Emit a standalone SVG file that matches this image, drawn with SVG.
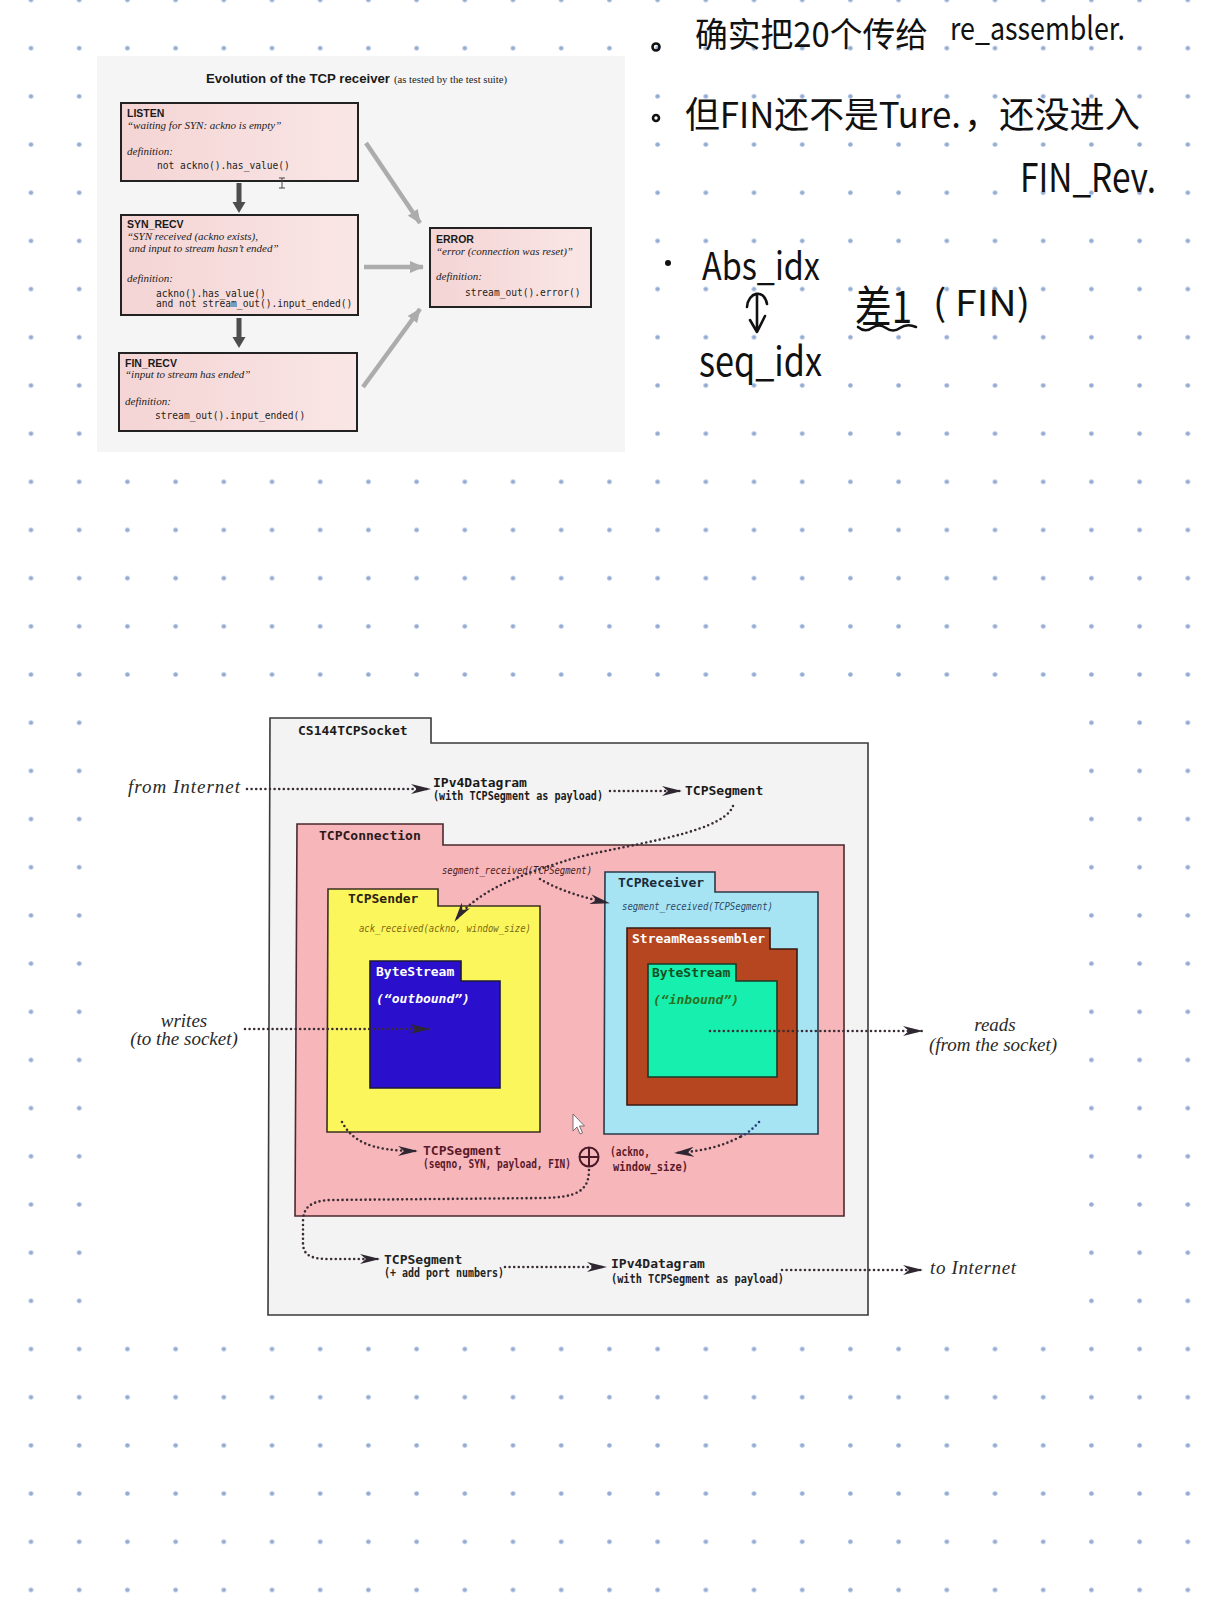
<svg xmlns="http://www.w3.org/2000/svg" width="1224" height="1607" viewBox="0 0 1224 1607">
<defs>
  <pattern id="dots" x="6.9" y="-24.09" width="48.2" height="48.18" patternUnits="userSpaceOnUse">
    <circle cx="24.1" cy="24.09" r="2.3" fill="#94acd4"/>
  </pattern>
  <linearGradient id="pinkbox" x1="0" y1="0" x2="1" y2="0">
    <stop offset="0" stop-color="#f4d4d4"/>
    <stop offset="1" stop-color="#fae6e6"/>
  </linearGradient>
  <marker id="stealth" viewBox="0 0 20 10" refX="19" refY="5" markerWidth="20" markerHeight="10" markerUnits="userSpaceOnUse" orient="auto">
    <path d="M0,0 L20,5 L0,10 L6,5 Z" fill="#2e2630"/>
  </marker>
  <marker id="garrow" viewBox="0 0 14 12" refX="13" refY="6" markerWidth="14" markerHeight="12" markerUnits="userSpaceOnUse" orient="auto">
    <path d="M0,0 L14,6 L0,12 Z" fill="#acacac"/>
  </marker>
  <style>
    .sans{font-family:"Liberation Sans",Arial,sans-serif}
    .serif{font-family:"Liberation Serif","Times New Roman",serif}
    .mono{font-family:"DejaVu Sans Mono","Liberation Mono",monospace}
    .cjk{font-family:"Noto Sans CJK SC","Noto Sans",sans-serif;fill:#111}
    .state{fill:url(#pinkbox);stroke:#222;stroke-width:2}
    .sname{font-family:"Liberation Sans",Arial,sans-serif;font-weight:bold;font-size:10.5px;fill:#1a1a1a}
    .squote{font-family:"Liberation Serif","Times New Roman",serif;font-style:italic;font-size:11px;fill:#222}
    .scode{font-family:"DejaVu Sans Mono","Liberation Mono",monospace;font-size:9.6px;fill:#222}
    .dot{fill:none;stroke:#3a2c34;stroke-width:2.6;stroke-linecap:round;stroke-dasharray:0 4.6}
    .garr{fill:none;stroke:#acacac;stroke-width:4.5}
    .box{stroke-width:1.6}
    .lbl{font-family:"DejaVu Sans Mono","Liberation Mono",monospace;font-weight:bold;font-size:13px}
    .sub{font-family:"DejaVu Sans Mono","Liberation Mono",monospace;font-weight:bold;font-size:11.5px}
    .meth{font-family:"DejaVu Sans Mono","Liberation Mono",monospace;font-style:italic;font-size:10.5px}
    .hand{fill:none;stroke:#111;stroke-width:2.6;stroke-linecap:round;stroke-linejoin:round}
    .ext{font-family:"Liberation Serif","Times New Roman",serif;font-style:italic;font-size:19px;fill:#2a2a2a}
  </style>
</defs>

<rect width="1224" height="1607" fill="#ffffff"/>
<rect width="1224" height="1607" fill="url(#dots)"/>

<!-- ===== Top screenshot: Evolution of the TCP receiver ===== -->
<g id="top-figure">
  <rect x="97" y="56" width="528" height="396" fill="#f6f5f5"/>
  <text x="206" y="83" class="sans" font-weight="bold" font-size="12.5px" fill="#1a1a1a" textLength="184" lengthAdjust="spacingAndGlyphs">Evolution of the TCP receiver</text>
  <text x="394" y="83" class="serif" font-size="10.5px" fill="#1a1a1a" textLength="113" lengthAdjust="spacingAndGlyphs">(as tested by the test suite)</text>
</g>

<g id="state-listen">
  <rect class="state" x="121" y="103" width="237" height="78"/>
  <text x="127" y="117" class="sname">LISTEN</text>
  <text x="127" y="129" class="squote">“waiting for SYN: ackno is empty”</text>
  <text x="127" y="155" class="squote">definition:</text>
  <text x="157" y="169" class="scode">not ackno().has_value()</text>
  <path d="M279,178 H285 M282,178 V188 M279,188 H285" stroke="#444" stroke-width="1" fill="none"/>
</g>

<g id="state-syn-recv">
  <rect class="state" x="121" y="215" width="237" height="100"/>
  <text x="127" y="228" class="sname">SYN_RECV</text>
  <text x="127" y="240" class="squote">“SYN received (ackno exists),</text>
  <text x="129" y="252" class="squote">and input to stream hasn’t ended”</text>
  <text x="127" y="282" class="squote">definition:</text>
  <text x="156" y="297" class="scode">ackno().has_value()</text>
  <text x="156" y="307" class="scode">and not stream_out().input_ended()</text>
</g>

<g id="state-fin-recv">
  <rect class="state" x="119" y="353" width="238" height="78"/>
  <text x="125" y="367" class="sname">FIN_RECV</text>
  <text x="125" y="378" class="squote">“input to stream has ended”</text>
  <text x="125" y="405" class="squote">definition:</text>
  <text x="155" y="419" class="scode">stream_out().input_ended()</text>
</g>

<g id="state-error">
  <rect class="state" x="430" y="228" width="161" height="79"/>
  <text x="436" y="243" class="sname">ERROR</text>
  <text x="436" y="255" class="squote">“error (connection was reset)”</text>
  <text x="436" y="280" class="squote">definition:</text>
  <text x="465" y="296" class="scode">stream_out().error()</text>
</g>

<g id="state-connectors">
  <rect x="236.5" y="183" width="5" height="20" fill="#4d4d4d"/>
  <polygon points="232.5,202 245.5,202 239,213" fill="#4d4d4d"/>
  <rect x="236.5" y="318" width="5" height="20" fill="#4d4d4d"/>
  <polygon points="232.5,337 245.5,337 239,348" fill="#4d4d4d"/>
  <path class="garr" d="M366,143 L420,223" marker-end="url(#garrow)"/>
  <path class="garr" d="M364,267 L423,267" marker-end="url(#garrow)"/>
  <path class="garr" d="M363,387 L420,309" marker-end="url(#garrow)"/>
</g>

<!-- ===== Handwritten notes ===== -->
<g id="notes">
  <circle cx="656" cy="47" r="3.5" class="hand" stroke-width="2.4"/>
  <text x="695" y="47" class="cjk" font-size="34px" textLength="233" lengthAdjust="spacingAndGlyphs">确实把20个传给</text>
  <text x="950" y="40" class="cjk" font-size="32px" textLength="175" lengthAdjust="spacingAndGlyphs">re_assembler.</text>

  <circle cx="656" cy="118" r="3" class="hand" stroke-width="2.4"/>
  <text x="685" y="128" class="cjk" font-size="36px" textLength="276" lengthAdjust="spacingAndGlyphs">但FIN还不是Ture.</text>
  <text x="964" y="128" class="cjk" font-size="36px" textLength="176" lengthAdjust="spacingAndGlyphs">，还没进入</text>
  <text x="1020" y="192" class="cjk" font-size="40px" textLength="136" lengthAdjust="spacingAndGlyphs">FIN_Rev.</text>

  <circle cx="668" cy="263" r="3" fill="#111"/>
  <text x="702" y="280" class="cjk" font-size="38px" textLength="118" lengthAdjust="spacingAndGlyphs">Abs_idx</text>
  <path class="hand" d="M747,307 C748,292 764,288 767,304 M757,296 L757,331 M750,320 L757,332 L765,316"/>
  <text x="699" y="376" class="cjk" font-size="40px" textLength="123" lengthAdjust="spacingAndGlyphs">seq_idx</text>
  <text x="855" y="323" class="cjk" font-size="44px" textLength="57" lengthAdjust="spacingAndGlyphs">差1</text>
  <text x="933" y="316" class="cjk" font-size="36px" textLength="97" lengthAdjust="spacingAndGlyphs">( FIN)</text>
  <path class="hand" stroke-width="2.2" d="M858,327 q7,6 14,1 t14,0 t14,0 t16,-1"/>
</g>

<!-- ===== Bottom screenshot: CS144TCPSocket ===== -->
<rect x="105" y="695" width="984" height="630" fill="#ffffff"/>

<g id="cs144tcpsocket">
  <path class="box" d="M270,718 H431 V743 H868 V1315 H268 Z" fill="#f3f3f3" stroke="#3a3a3a"/>
  <text x="298" y="735" class="lbl" fill="#1a1a1a">CS144TCPSocket</text>
</g>

<g id="tcpconnection">
  <path class="box" d="M297,824 H443 V845 H844 V1216 H295 Z" fill="#f7b6ba" stroke="#4a2a2e"/>
  <text x="319" y="840" class="lbl" fill="#2a1a1c">TCPConnection</text>
</g>

<g id="tcpsender">
  <path class="box" d="M328,889 H438 V906 H540 V1132 H327 Z" fill="#fcf65d" stroke="#3a3020"/>
  <text x="348" y="903" class="lbl" fill="#2a2010">TCPSender</text>
  <text x="359" y="932" class="meth" fill="#7d6a10" textLength="172" lengthAdjust="spacingAndGlyphs">ack_received(ackno, window_size)</text>
</g>

<g id="bytestream-outbound">
  <path class="box" d="M370,961 H461 V981 H500 V1088 H370 Z" fill="#2a10cc" stroke="#1a1a3a"/>
  <text x="376" y="976" class="lbl" fill="#ffffff">ByteStream</text>
  <text x="376" y="1003" class="lbl" font-size="11px" font-style="italic" fill="#ffffff">(“outbound”)</text>
</g>

<g id="tcpreceiver">
  <path class="box" d="M605,872 H715 V892 H818 V1134 H604 Z" fill="#a6e3f3" stroke="#2a3a4a"/>
  <text x="618" y="887" class="lbl" fill="#1a2a3a">TCPReceiver</text>
  <text x="622" y="910" class="meth" fill="#2a4a6a" textLength="151" lengthAdjust="spacingAndGlyphs">segment_received(TCPSegment)</text>
</g>

<g id="streamreassembler">
  <path class="box" d="M627,928 H770 V949 H797 V1105 H627 Z" fill="#b5461f" stroke="#3a1a10"/>
  <text x="632" y="943" class="lbl" fill="#ffffff">StreamReassembler</text>
</g>

<g id="bytestream-inbound">
  <path class="box" d="M648,964 H736 V981 H777 V1077 H648 Z" fill="#17efae" stroke="#1a3a2a"/>
  <text x="652" y="977" class="lbl" fill="#14501e">ByteStream</text>
  <text x="653" y="1004" class="lbl" font-size="11px" font-style="italic" fill="#2a7020">(“inbound”)</text>
</g>

<g id="labels">
  <text x="128" y="793" class="ext" font-size="20px" textLength="112">from Internet</text>
  <text x="433" y="787" class="lbl" font-size="13.5px" fill="#1a1a1a">IPv4Datagram</text>
  <text x="433" y="800" class="sub" fill="#1a1a1a" textLength="170" lengthAdjust="spacingAndGlyphs">(with TCPSegment as payload)</text>
  <text x="685" y="795" class="lbl" fill="#1a1a1a">TCPSegment</text>
  <text x="442" y="874" class="meth" fill="#4a1a20" textLength="150" lengthAdjust="spacingAndGlyphs">segment_received(TCPSegment)</text>
  <text x="184" y="1027" class="ext" text-anchor="middle">writes</text>
  <text x="184" y="1045" class="ext" text-anchor="middle">(to the socket)</text>
  <text x="995" y="1031" class="ext" text-anchor="middle">reads</text>
  <text x="993" y="1051" class="ext" text-anchor="middle">(from the socket)</text>
  <text x="423" y="1155" class="lbl" fill="#5a1a2a">TCPSegment</text>
  <text x="423" y="1168" class="sub" fill="#5a1a2a" textLength="148" lengthAdjust="spacingAndGlyphs">(seqno, SYN, payload, FIN)</text>
  <text x="610" y="1156" class="sub" fill="#5a1a2a" textLength="40" lengthAdjust="spacingAndGlyphs">(ackno,</text>
  <text x="613" y="1171" class="sub" fill="#5a1a2a" textLength="75" lengthAdjust="spacingAndGlyphs">window_size)</text>
  <text x="384" y="1264" class="lbl" fill="#222222">TCPSegment</text>
  <text x="384" y="1277" class="sub" fill="#222222" textLength="120" lengthAdjust="spacingAndGlyphs">(+ add port numbers)</text>
  <text x="611" y="1268" class="lbl" font-size="13.5px" fill="#222222">IPv4Datagram</text>
  <text x="611" y="1283" class="sub" fill="#222222" textLength="173" lengthAdjust="spacingAndGlyphs">(with TCPSegment as payload)</text>
  <text x="930" y="1274" class="ext" textLength="86">to Internet</text>
</g>

<g id="connectors">
  <path class="dot" d="M247,789 H430" marker-end="url(#stealth)"/>
  <path class="dot" d="M610,791 H681" marker-end="url(#stealth)"/>
  <path class="dot" d="M733,806 C722,836 610,846 565,861 C530,872 478,888 455,921" marker-end="url(#stealth)"/>
  <path class="dot" d="M540,879 C560,891 585,898 609,903" marker-end="url(#stealth)"/>
  <path class="dot" d="M245,1029 H429" marker-end="url(#stealth)"/>
  <path class="dot" d="M710,1031 H922" marker-end="url(#stealth)"/>
  <path class="dot" d="M342,1122 C352,1140 368,1151 417,1151" marker-end="url(#stealth)"/>
  <path class="dot" style="stroke:#23407a" d="M759,1122 C752,1130 746,1134 740,1137"/>
  <path class="dot" d="M740,1137 C722,1146 705,1151 675,1153" marker-end="url(#stealth)"/>
  <path class="dot" d="M589,1170 C589,1192 575,1197 545,1198 L330,1200 C310,1201 303,1208 303,1222 L303,1243 C303,1256 312,1259 330,1259 L379,1259" marker-end="url(#stealth)"/>
  <path class="dot" d="M505,1267 H606" marker-end="url(#stealth)"/>
  <path class="dot" d="M782,1270 H922" marker-end="url(#stealth)"/>
  <g id="merge" fill="none" stroke="#4a1a28" stroke-width="2">
    <circle cx="589" cy="1157" r="9.5"/>
    <path d="M579.5,1157 H598.5 M589,1147.5 V1166.5"/>
  </g>
</g>

<path d="M573,1114 L573,1131 L577,1127 L580,1134 L582.5,1133 L579.5,1126 L584.5,1126 Z" fill="#ffffff" stroke="#555" stroke-width="0.8"/>
</svg>
